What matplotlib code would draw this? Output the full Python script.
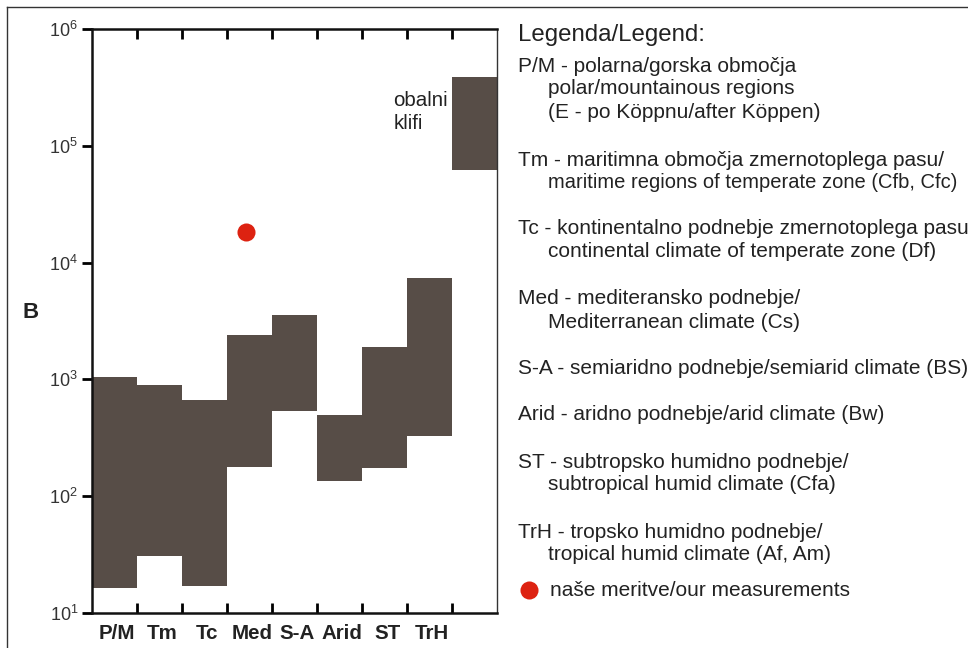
import numpy as np
import matplotlib
matplotlib.use("Agg")
import matplotlib.pyplot as plt
from matplotlib.patches import Rectangle
from matplotlib.lines import Line2D
from matplotlib.ticker import FixedLocator, FuncFormatter, NullLocator

plt.rcParams['font.family'] = ['Liberation Sans', 'DejaVu Sans']

# climate classes (column ranges of B, log scale)
categories = ["P/M", "Tm", "Tc", "Med", "S-A", "Arid", "ST", "TrH"]
b_low = [16.5, 31, 17, 177, 532, 134, 174, 327]
b_high = [1040, 890, 660, 2380, 3530, 500, 1880, 7400]

# coastal cliffs column
cliff_low = 62400
cliff_high = 390000

# our measurement
meas_x = 3.42
meas_b = 18400

legend_lines = [
    ("Legenda/Legend:", 0),
    ("P/M - polarna/gorska območja", 0),
    ("polar/mountainous regions", 1),
    ("(E - po Köppnu/after Köppen)", 1),
    ("Tm - maritimna območja zmernotoplega pasu/", 0),
    ("maritime regions of temperate zone (Cfb, Cfc)", 1),
    ("Tc - kontinentalno podnebje zmernotoplega pasu", 0),
    ("continental climate of temperate zone (Df)", 1),
    ("Med - mediteransko podnebje/", 0),
    ("Mediterranean climate (Cs)", 1),
    ("S-A - semiaridno podnebje/semiarid climate (BS)", 0),
    ("Arid - aridno podnebje/arid climate (Bw)", 0),
    ("ST - subtropsko humidno podnebje/", 0),
    ("subtropical humid climate (Cfa)", 1),
    ("TrH - tropsko humidno podnebje/", 0),
    ("tropical humid climate (Af, Am)", 1),
]
legend_y = [35, 67, 89, 113, 160, 183, 228, 252, 298, 322, 368, 415, 462, 484, 532, 554]

bar_color = "#574d47"
txt_color = "#222222"

W, H = 968, 648
fig = plt.figure(figsize=(W / 100, H / 100), dpi=100)
ax = fig.add_axes([92 / W, 1 - 613 / H, (497 - 92) / W, (613 - 29) / H])

for i in range(len(categories)):
    ax.add_patch(Rectangle((i, b_low[i]), 1, b_high[i] - b_low[i],
                           facecolor=bar_color, edgecolor="none"))
ax.add_patch(Rectangle((8, cliff_low), 1, cliff_high - cliff_low,
                       facecolor=bar_color, edgecolor="none"))
ax.plot([meas_x], [meas_b], "o", color="#dd2211", markersize=13, markeredgewidth=0)

ax.text(6.7, 1.95e5, "obalni\nklifi", fontsize=14.8, color=txt_color,
        ha="left", va="center", linespacing=1.3)

ax.set_yscale("log")
ax.set_ylim(10, 1e6)
ax.set_xlim(0, 9)

ax.yaxis.set_major_locator(FixedLocator([1e1, 1e2, 1e3, 1e4, 1e5, 1e6]))
ax.yaxis.set_minor_locator(NullLocator())
ax.yaxis.set_major_formatter(FuncFormatter(
    lambda v, p: r"$\mathregular{10^{%d}}$" % round(np.log10(v))))
ax.tick_params(axis="y", direction="out", length=7, width=2,
               labelsize=13, labelcolor="#333333", pad=3)

ax.set_xticks(np.arange(1, 9))
ax.set_xticklabels([])
ax.set_xticks(np.arange(len(categories)) + 0.56, minor=True)
ax.set_xticklabels(categories, minor=True, fontsize=14.8, fontweight="bold",
                   color=txt_color)
ax.tick_params(axis="x", which="major", direction="in", length=7, width=2,
               top=True)
ax.tick_params(axis="x", which="minor", length=0, pad=8)

for s in ["left", "bottom", "top"]:
    ax.spines[s].set_linewidth(1.8)
    ax.spines[s].set_color("#111111")
ax.spines["right"].set_linewidth(1.0)
ax.spines["right"].set_color("#333333")

fig.text(22 / W, 1 - 313 / H, "B", fontsize=16, fontweight="bold",
         color=txt_color, va="center", ha="left")

# legend on the right
for (s, ind), y in zip(legend_lines, legend_y):
    x = 548 if ind else 518
    fs = 17.3 if s.startswith("Legenda") else 15
    if s.startswith("maritime"):
        fs = 14.5
    fig.text(x / W, 1 - y / H, s, fontsize=fs, color=txt_color,
             va="center", ha="left")
fig.add_artist(Line2D([529 / W], [1 - 590 / H], marker="o", color="#dd2211",
                      markersize=13, markeredgewidth=0, linestyle="none"))
fig.text(550 / W, 1 - 590 / H, "naše meritve/our measurements", fontsize=15,
         color=txt_color, va="center", ha="left")

# outer frame
fig.add_artist(Line2D([7 / W, 1], [1 - 7 / H, 1 - 7 / H], color="#333333", lw=1))
fig.add_artist(Line2D([7 / W, 7 / W], [0, 1 - 7 / H], color="#333333", lw=1))

fig.savefig("out.png", dpi=100)
